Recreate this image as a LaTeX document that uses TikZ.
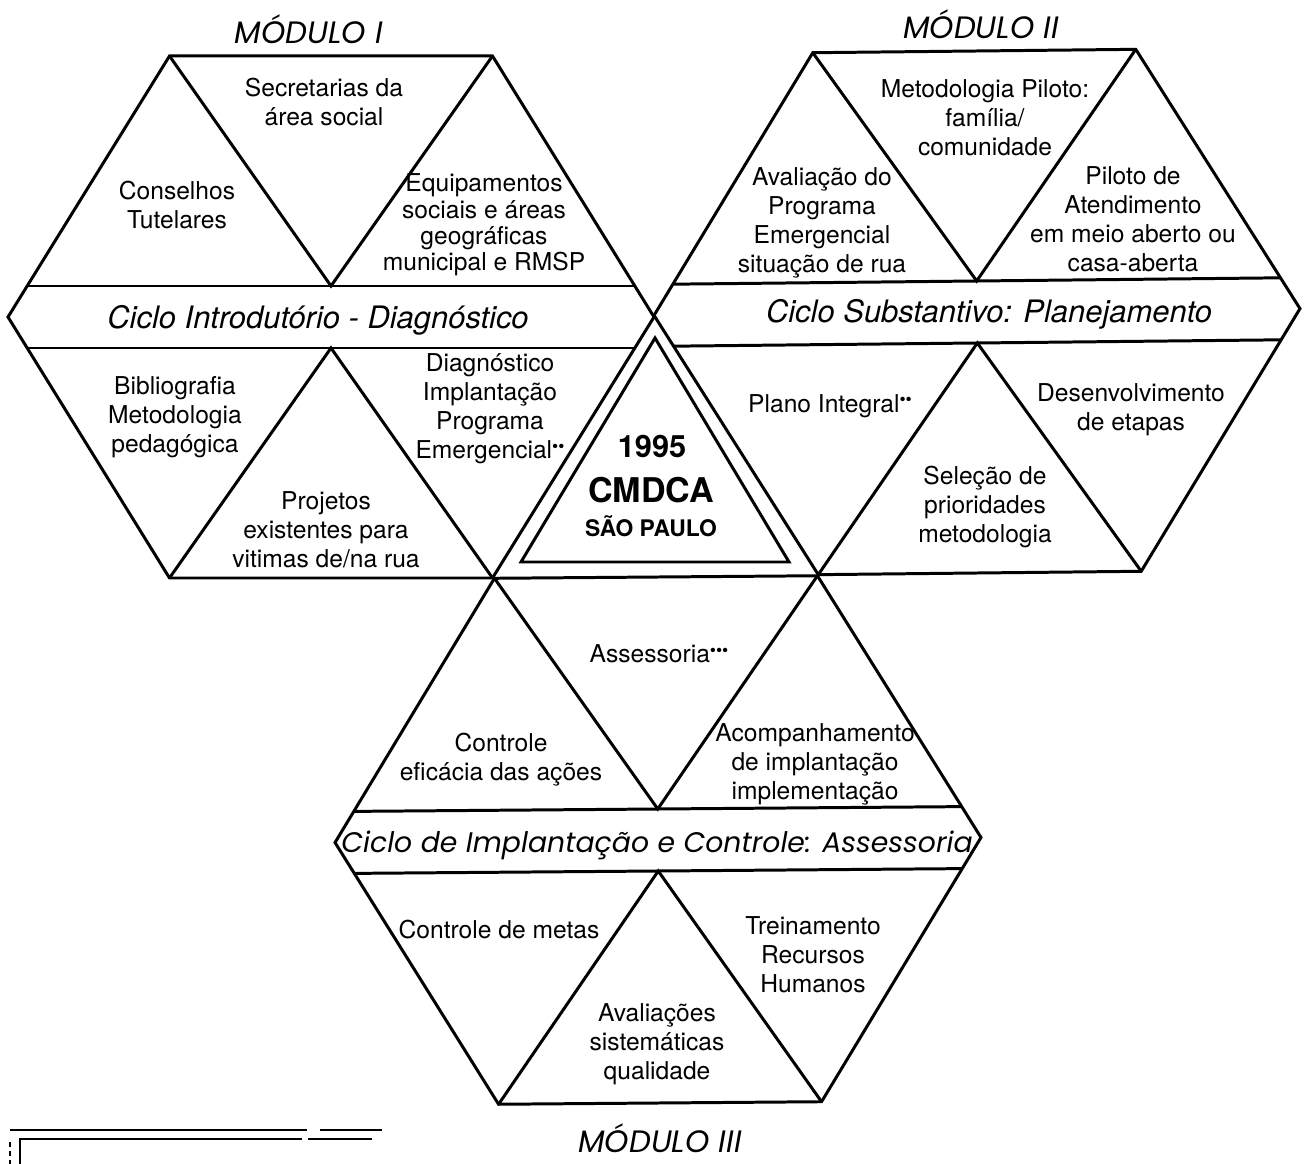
\documentclass[tikz,border=0pt]{standalone}
\usepackage{fontspec}
\setmainfont{TeX Gyre Heros}
\newfontfamily\geofont{Poppins}
\def\hexR{323}
\def\bandh{31}
\def\hexmodule[#1](#2)(#3){\begin{scope}[shift={(#2)},#1]
	\draw[hexline] (-\hexR,0) -- ({-\hexR/2},-#3) -- ({\hexR/2},-#3) -- (\hexR,0) -- ({\hexR/2},#3) -- ({-\hexR/2},#3) -- cycle;
	\draw[hexline] ({-\hexR+\hexR/2*\bandh/#3},-\bandh) -- ({\hexR-\hexR/2*\bandh/#3},-\bandh);
	\draw[hexline] ({-\hexR+\hexR/2*\bandh/#3},\bandh) -- ({\hexR-\hexR/2*\bandh/#3},\bandh);
	\draw[hexline] ({-\hexR/2},-#3) -- (0,-\bandh) -- ({\hexR/2},-#3);
	\draw[hexline] ({-\hexR/2},#3) -- (0,\bandh) -- ({\hexR/2},#3);
\end{scope}}
\newcommand{\fnmark}[1]{\raisebox{0.5ex}{\fontsize{10}{10}\selectfont #1}}
\tikzset{
	hexline/.style={line width=1.7pt, line join=miter},
	scanline/.style={line width=1.1pt},
	cell/.style={align=center, inner sep=0pt, font=\fontsize{14}{16.5}\selectfont},
	bandtext/.style={inner sep=0pt, font=\fontsize{17.6}{20}\selectfont\itshape},
	geoband/.style={inner sep=0pt, font=\geofont\fontsize{16.1}{20}\selectfont\itshape},
	modlabel/.style={inner sep=0pt, anchor=base, font=\geofont\fontsize{17.6}{20}\selectfont\itshape},
	hub/.style={inner sep=0pt, font=\bfseries}
}

\begin{document}
\begin{tikzpicture}[x=0.2mm, y=-0.2mm]
			%%%%% START %%%%%
			\useasboundingbox (0,0) rectangle (1304,1164);
			
			\hexmodule[](331,317)(261)
			\hexmodule[rotate=0.6](977,312)(261)
			\hexmodule[rotate=0.45](658,840)(263)
			
			\draw[hexline] (655,338) -- (521,562) -- (789,562) -- cycle;
			
			\node[modlabel] (modI) at (309,44) {MÓDULO I};
			\node[modlabel] (modII) at (981,39) {MÓDULO II};
			\node[modlabel] (modIII) at (660,1152) {MÓDULO III};
			
			\node[cell] (secr) at (324,102) {Secretarias da\\área social};
			\node[cell] (cons) at (177,205) {Conselhos\\Tutelares};
			\node[cell, font=\fontsize{14}{15}\selectfont] (equip) at (484,225) {Equipamentos\\sociais e áreas\\geográficas\\municipal e RMSP};
			\node[bandtext] (cicloI) at (318,320) {Ciclo Introdutório - Diagnóstico};
			\node[cell] (biblio) at (175,417) {Bibliografia\\Metodologia\\pedagógica};
			\node[cell] (proj) at (326,530) {Projetos\\existentes para\\vitimas de/na rua};
			\node[cell] (diag) at (490,409) {Diagnóstico\\Implantação\\Programa\\Emergencial\fnmark{••}};
			
			\node[cell] (metod) at (985,118) {Metodologia Piloto:\\família/\\comunidade};
			\node[cell] (aval) at (822,223) {Avaliação do\\Programa\\Emergencial\\situação de rua};
			\node[cell] (pilot) at (1133,219) {Piloto de\\Atendimento\\em meio aberto ou\\casa-aberta};
			\node[bandtext] (cicloII) at (989,314) {Ciclo Substantivo: Planejamento};
			\node[cell] (plano) at (830,406) {Plano Integral\fnmark{••}};
			\node[cell] (desenv) at (1131,410) {Desenvolvimento\\de etapas};
			\node[cell] (selec) at (985,507) {Seleção de\\prioridades\\metodologia};
			
			\node[hub, font=\bfseries\fontsize{17.5}{18}\selectfont] (year) at (652,447) {1995};
			\node[hub, font=\bfseries\fontsize{19.4}{20}\selectfont] (cmdca) at (651,490) {CMDCA};
			\node[hub, font=\bfseries\fontsize{13}{14}\selectfont] (city) at (651,526) {SÃO PAULO};
			
			\node[cell] (assess) at (659,654) {Assessoria\fnmark{•••}};
			\node[cell] (ctrl) at (501,760) {Controle\\eficácia das ações};
			\node[cell] (acomp) at (815,764) {Acompanhamento\\de implantação\\implementação};
			\node[geoband] (cicloIII) at (657,845) {Ciclo de Implantação e Controle: Assessoria};
			\node[cell] (metas) at (499,930) {Controle de metas};
			\node[cell] (trein) at (813,955) {Treinamento\\Recursos\\Humanos};
			\node[cell] (avalsis) at (657,1044) {Avaliações\\sistemáticas\\qualidade};
			
			\draw[scanline] (10,1130) -- (307,1130) (320,1130) -- (382,1130);
			\draw[scanline] (20,1164) -- (20,1139) -- (302,1139) (308,1139) -- (372,1139);
			\draw[scanline, dash pattern=on 3pt off 2pt] (10,1142) -- (10,1164);
			
			%%%%% END %%%%%
\end{tikzpicture}
\end{document}
